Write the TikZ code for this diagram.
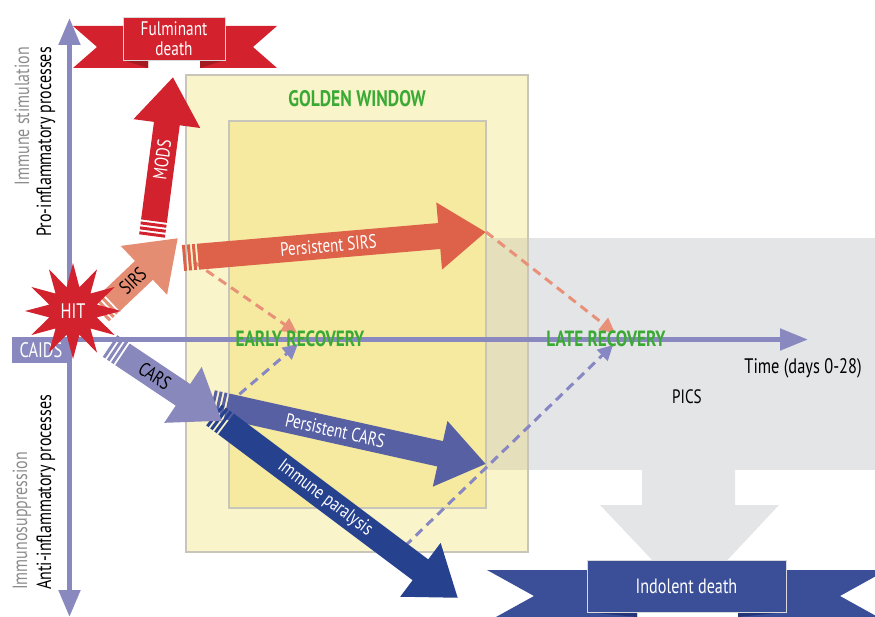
\documentclass[tikz,border=0pt]{standalone}
\usepackage{fontspec}
\setmainfont{PT Sans}[FakeStretch=0.78]
\usepackage{tikz}
\usetikzlibrary{arrows.meta, calc, shapes.geometric, positioning}
\definecolor{AxisLav}{RGB}{138,137,191}
\definecolor{SirsSalmon}{RGB}{229,141,115}
\definecolor{PSirsRed}{RGB}{221,98,73}
\definecolor{ModsRed}{RGB}{210,34,46}
\definecolor{CarsLav}{RGB}{137,136,189}
\definecolor{PCarsBlue}{RGB}{87,96,163}
\definecolor{ParaBlue}{RGB}{38,65,142}
\definecolor{GoldOuter}{RGB}{250,244,202}
\definecolor{GoldInner}{RGB}{245,234,160}
\definecolor{FrameGray}{RGB}{200,198,186}
\definecolor{PicsGray}{RGB}{228,229,231}
\definecolor{PicsOverlap}{RGB}{230,223,187}
\definecolor{RecGreen}{RGB}{58,170,53}
\definecolor{BannerRed}{RGB}{211,34,46}
\definecolor{BannerRedDark}{RGB}{165,27,34}
\definecolor{BannerBlue}{RGB}{59,78,152}
\definecolor{BannerBlueDark}{RGB}{36,52,120}
\definecolor{DashSalmon}{RGB}{232,145,120}
\definecolor{DashLav}{RGB}{135,135,195}
\definecolor{SideGray}{RGB}{140,140,140}
\tikzset{
  fatarr/.style={line width=26pt, -{Triangle[width=64pt,length=47pt]}},
  breakmark/.style={line width=26pt, dash pattern=on 3pt off 2pt},
  dasharr/.style={line width=3pt, dash pattern=on 9pt off 6pt, -{Triangle[width=15pt,length=15pt]}},
  axisarr/.style={line width=5pt, AxisLav},
  arrtxt/.style={sloped, inner sep=0pt, font=\fontsize{19.3}{21}\selectfont},
  recov/.style={font=\fontsize{22}{24}\selectfont\bfseries, text=RecGreen, inner sep=0pt},
  sidelbl/.style={rotate=90, inner sep=0pt, font=\fontsize{20.5}{22}\selectfont},
  banbox/.style={draw=white!70!gray, line width=0.8pt, text=white, align=center, inner sep=0pt},
  frame/.style={draw=FrameGray, line width=2pt},
}
\begin{document}
\begin{tikzpicture}[x=1pt, y=-1pt, font=\fontsize{20}{22}\selectfont]
  \useasboundingbox (0,0) rectangle (875,617);
  % golden window and PICS zone
  \fill[GoldOuter] (186,75) rectangle (528,552);
  \fill[GoldInner] (229,121) rectangle (486,508);
  \fill[PicsGray] (486,238) rectangle (875,470);
  \fill[PicsOverlap] (486,238) rectangle (528,470);
  \draw[frame] (186,75) rectangle (528,552);
  \draw[frame] (229,121) rectangle (486,508);
  \fill[PicsGray] (642,469) -- (735,469) -- (735,505) -- (779,505) -- (690,600)
    -- (600,505) -- (642,505) -- cycle;
  % axes
  \coordinate (vtop) at (69.5,18);
  \coordinate (vbot) at (69.5,617);
  \coordinate (hstart) at (12,339.5);
  \coordinate (hend) at (808,339.5);
  \draw[axisarr, {Triangle[width=21pt,length=27pt]}-{Triangle[width=21pt,length=27pt]}] (vbot) -- (vtop);
  \draw[axisarr, -{Triangle[width=21pt,length=28pt]}] (hstart) -- (hend);
  \node[fill=AxisLav, text=white, minimum width=58pt, minimum height=26pt, inner sep=0pt,
    font=\fontsize{21}{23}\selectfont] (caids) at (41,350) {CAIDS};
  % arrow end points
  \coordinate (sirsS) at (100,312);  \coordinate (sirsE) at (178,238);
  \coordinate (modsS) at (152,236);  \coordinate (modsE) at (173,77);
  \coordinate (psirsS) at (183,258); \coordinate (psirsE) at (486,232);
  \coordinate (carsS) at (110,346);  \coordinate (carsE) at (222,421);
  \coordinate (pcarsS) at (212,403); \coordinate (pcarsE) at (486,464);
  \coordinate (paraS) at (214,415);  \coordinate (paraE) at (458,598);
  \coordinate (earlyUp) at (297,333); \coordinate (earlyDn) at (298,344);
  \coordinate (lateUp) at (615,333);  \coordinate (lateDn) at (613,345);
  \coordinate (dsA) at (194,262);
  \coordinate (dlA) at (228,404);
  \coordinate (dlB) at (405,546);
  % dashed recovery paths
  \draw[dasharr, DashSalmon] (dsA) -- (earlyUp);
  \draw[dasharr, DashSalmon] (psirsE) -- (lateUp);
  \draw[dasharr, DashLav] (dlA) -- (earlyDn);
  \draw[dasharr, DashLav] (dlB) -- (lateDn);
  % pro-inflammatory arrows
  \draw[breakmark, PSirsRed] (psirsS) -- ($(psirsS)!13pt!(psirsE)$);
  \draw[fatarr, PSirsRed] ($(psirsS)!15pt!(psirsE)$) -- (psirsE);
  \path (psirsS) -- (psirsE) node[arrtxt, pos=.48, text=white] {Persistent SIRS};
  \draw[breakmark, ModsRed] (modsS) -- ($(modsS)!13pt!(modsE)$);
  \draw[fatarr, ModsRed] ($(modsS)!15pt!(modsE)$) -- (modsE);
  \path (modsS) -- (modsE) node[arrtxt, pos=.48, text=white] {MODS};
  \draw[breakmark, SirsSalmon] (sirsS) -- ($(sirsS)!13pt!(sirsE)$);
  \draw[fatarr, SirsSalmon] ($(sirsS)!15pt!(sirsE)$) -- (sirsE);
  \path (sirsS) -- (sirsE) node[arrtxt, pos=.42] {SIRS};
  % anti-inflammatory arrows
  \draw[breakmark, PCarsBlue] (pcarsS) -- ($(pcarsS)!13pt!(pcarsE)$);
  \draw[fatarr, PCarsBlue] ($(pcarsS)!15pt!(pcarsE)$) -- (pcarsE);
  \path (pcarsS) -- (pcarsE) node[arrtxt, pos=.45, text=white] {Persistent CARS};
  \draw[breakmark, ParaBlue] (paraS) -- ($(paraS)!13pt!(paraE)$);
  \draw[fatarr, ParaBlue] ($(paraS)!15pt!(paraE)$) -- (paraE);
  \path (paraS) -- (paraE) node[arrtxt, pos=.455, text=white] {Immune paralysis};
  \draw[breakmark, CarsLav] (carsS) -- ($(carsS)!13pt!(carsE)$);
  \draw[fatarr, CarsLav] ($(carsS)!15pt!(carsE)$) -- (carsE);
  \path (carsS) -- (carsE) node[arrtxt, pos=.4] {CARS};
  % hit
  \node[star, star points=12, star point ratio=1.95, minimum size=96pt, inner sep=0pt,
    fill=ModsRed, text=white, font=\fontsize{21}{23}\selectfont] (hit) at (73,311) {HIT};
  % labels
  \node[recov] (early) at (300,339) {EARLY RECOVERY};
  \node[recov] (late) at (606,339) {LATE RECOVERY};
  \node[recov, font=\fontsize{22.5}{24}\selectfont\bfseries] (golden) at (357,99) {GOLDEN WINDOW};
  \node[inner sep=0pt, font=\fontsize{21}{23}\selectfont] (time) at (803,368) {Time (days 0-28)};
  \node[inner sep=0pt, font=\fontsize{19.4}{21}\selectfont] (pics) at (687,397) {PICS};
  \node[sidelbl, anchor=east, text=SideGray] (stim) at (22,47) {Immune stimulation};
  \node[sidelbl, anchor=east] (proinf) at (46,47) {Pro-inflammatory processes};
  \node[sidelbl, anchor=west, text=SideGray] (supp) at (22,590) {Immunosuppression};
  \node[sidelbl, anchor=west] (antiinf) at (46,590) {Anti-inflammatory processes};
  % fulminant death banner
  \fill[BannerRed] (73,26) -- (148,26) -- (148,68) -- (73,68) -- (97,47) -- cycle;
  \fill[BannerRedDark] (123,60) -- (148,60) -- (148,68) -- cycle;
  \fill[BannerRed] (277,26) -- (200,26) -- (200,68) -- (277,68) -- (253,47) -- cycle;
  \fill[BannerRedDark] (225,60) -- (200,60) -- (200,68) -- cycle;
  \node[banbox, fill=BannerRed, minimum width=102pt, minimum height=43pt,
    font=\fontsize{19.6}{19.5}\selectfont] (fulminant) at (174,38.5) {Fulminant\\death};
  % indolent death banner
  \fill[BannerBlue] (487,570) -- (637,570) -- (637,617) -- (496,617) -- (534,596) -- cycle;
  \fill[BannerBlueDark] (587,612) -- (637,612) -- (637,617) -- cycle;
  \fill[BannerBlue] (738,570) -- (875,570) -- (875,576.6) -- (840,596) -- (875,615.4)
    -- (875,617) -- (738,617) -- cycle;
  \fill[BannerBlueDark] (786,612) -- (738,612) -- (738,617) -- cycle;
  \node[banbox, fill=BannerBlue, minimum width=199pt, minimum height=52pt,
    font=\fontsize{20.7}{22}\selectfont] (indolent) at (686.5,586) {Indolent death};
\end{tikzpicture}
\end{document}
